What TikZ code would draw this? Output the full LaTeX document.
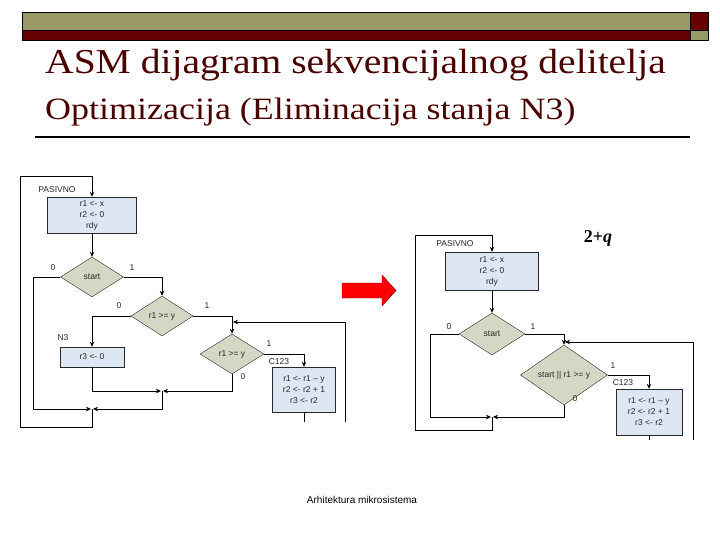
\documentclass[tikz,border=0pt]{standalone}
\usepackage{fontspec}
\setmainfont{Liberation Serif}
\newfontfamily\diagfont{Liberation Sans}
\usetikzlibrary{shapes.geometric,arrows.meta}
\definecolor{titlered}{RGB}{75,0,0}
\definecolor{barolive}{RGB}{153,153,102}
\definecolor{barred}{RGB}{102,0,0}
\definecolor{statefill}{RGB}{221,230,243}
\definecolor{condfill}{RGB}{213,214,196}
\definecolor{inkgray}{RGB}{40,40,40}

\begin{document}
\begin{tikzpicture}[x=1pt,y=-1pt, every node/.style={font=\diagfont\fontsize{8.5}{11}\selectfont, text=inkgray}]
  \tikzstyle{statebox}=[rectangle, draw=inkgray, fill=statefill, align=center, inner sep=1pt]
  \tikzstyle{condbox}=[diamond, draw=inkgray, fill=condfill, inner sep=0pt, align=center]
  \tikzstyle{wire}=[draw=black, line width=0.8pt]
  \tikzstyle{flow}=[wire, -{Stealth[length=5pt,width=4.5pt]}]
  \tikzstyle{tag}=[inner sep=0pt]
  \useasboundingbox (0,0) rectangle (720,540);
  \fill[white] (0,0) rectangle (720,540);

  % slide header
  \draw[fill=barolive] (22,12) rectangle (690,30);
  \draw[fill=barred] (22,30) rectangle (690,40);
  \draw[fill=barred] (690,12) rectangle (708,30);
  \draw[fill=barolive] (690,30) rectangle (708,40);
  \node[anchor=base west, inner sep=0pt, text=titlered, font=\fontsize{35}{38}\selectfont] (title) at (45,74) {\scalebox{1.13}[1]{ASM dijagram sekvencijalnog delitelja}};
  \node[anchor=base west, inner sep=0pt, text=titlered, font=\fontsize{31}{34}\selectfont] (subtitle) at (45,120) {\scalebox{1.16}[1]{Optimizacija (Eliminacija stanja N3)}};
  \draw[line width=1.6pt] (35,137) -- (690,137);

  % ASM before
  \node[statebox, minimum width=89pt, minimum height=36pt] (pas1) at (92,215) {r1 <- x\\r2 <- 0\\rdy};
  \node[condbox, minimum width=63pt, minimum height=40pt] (start1) at (92,277) {start};
  \node[condbox, minimum width=62pt, minimum height=40pt] (cmp1a) at (162,316) {r1 >= y};
  \node[statebox, minimum width=64pt, minimum height=20pt] (n3) at (92,357) {r3 <- 0};
  \node[condbox, minimum width=64pt, minimum height=40pt] (cmp1b) at (232,354) {r1 >= y};
  \node[statebox, minimum width=63pt, minimum height=45pt] (c1) at (304,389.5) {r1 <- r1 – y\\r2 <- r2 + 1\\r3 <- r2};
  \node[tag] (lpas1) at (57,190) {PASIVNO};
  \node[tag] (ln3) at (63,338) {N3};
  \node[tag] (lc1) at (279,362) {C123};
  \node[tag] (s1zero) at (53,268) {0};
  \node[tag] (s1one) at (132,268) {1};
  \node[tag] (a1zero) at (119,306) {0};
  \node[tag] (a1one) at (207,306) {1};
  \node[tag] (b1one) at (269,344) {1};
  \node[tag] (b1zero) at (243,377) {0};
  \coordinate (j1a) at (162,391);
  \coordinate (j1b) at (92,409);
  \coordinate (l1sw) at (33,409);
  \coordinate (l1bot) at (20,427);
  \coordinate (l1top) at (20,176);
  \coordinate (l1in) at (232,322);
  \coordinate (l1ret) at (345,422);
  \coordinate (c1out) at (304,422);
  \draw[flow] (pas1) -- (start1);
  \draw[flow] (start1.east) -| (cmp1a.north);
  \draw[flow] (start1.west) -| (l1sw) -- ([xshift=-1pt]j1b);
  \draw[flow] (cmp1a.west) -| (n3.north);
  \draw[flow] (cmp1a.east) -| (cmp1b.north);
  \draw[flow] (n3.south) |- ([xshift=-1pt]j1a);
  \draw[flow] (cmp1b.south) |- ([xshift=1pt]j1a);
  \draw[flow] (j1a) |- ([xshift=1pt]j1b);
  \draw[flow] (j1b) |- (l1bot) -- (l1top) -| (pas1.north);
  \draw[flow] (cmp1b.east) -| (c1.north);
  \draw[wire] (c1.south) -- (c1out);
  \draw[flow] (l1ret) |- ([xshift=1pt]l1in);

  % arrow between the two charts
  \draw[draw=barred, fill=red] (342,283) -- (382,283) -- (382,275) -- (396,290.5) -- (382,306) -- (382,298) -- (342,298) -- cycle;

  % ASM after
  \node[statebox, minimum width=93pt, minimum height=38pt] (pas2) at (492,271) {r1 <- x\\r2 <- 0\\rdy};
  \node[condbox, minimum width=66pt, minimum height=42pt] (start2) at (492,334) {start};
  \node[condbox, minimum width=87pt, minimum height=41pt] (cmp2) at (564,375) {start || r1 >= y};
  \node[statebox, minimum width=66pt, minimum height=46pt] (c2) at (649,412) {r1 <- r1 – y\\r2 <- r2 + 1\\r3 <- r2};
  \node[tag] (lpas2) at (455,244) {PASIVNO};
  \node[tag] (lc2) at (623,383) {C123};
  \node[tag] (s2zero) at (449,327) {0};
  \node[tag] (s2one) at (533,327) {1};
  \node[tag] (c2one) at (613,366) {1};
  \node[tag] (c2zero) at (575,399) {0};
  \node[tag, text=black, font=\fontsize{18}{20}\selectfont] (cost) at (598,238) {\textbf{2+\textit{q}}};
  \coordinate (j2) at (492,417);
  \coordinate (l2sw) at (430,417);
  \coordinate (l2bot) at (415,430);
  \coordinate (l2top) at (415,235);
  \coordinate (l2in) at (564,342);
  \coordinate (l2ret) at (693,440);
  \coordinate (c2out) at (649,440);
  \draw[flow] (pas2) -- (start2);
  \draw[flow] (start2.east) -| (cmp2.north);
  \draw[flow] (start2.west) -| (l2sw) -- ([xshift=-1pt]j2);
  \draw[flow] (cmp2.south) |- ([xshift=1pt]j2);
  \draw[flow] (j2) |- (l2bot) -- (l2top) -| (pas2.north);
  \draw[flow] (cmp2.east) -| (c2.north);
  \draw[wire] (c2.south) -- (c2out);
  \draw[flow] (l2ret) |- ([xshift=1pt]l2in);

  % footer
  \node[text=black, font=\diagfont\fontsize{10}{12}\selectfont] (footer) at (362,500) {Arhitektura mikrosistema};
\end{tikzpicture}
\end{document}
